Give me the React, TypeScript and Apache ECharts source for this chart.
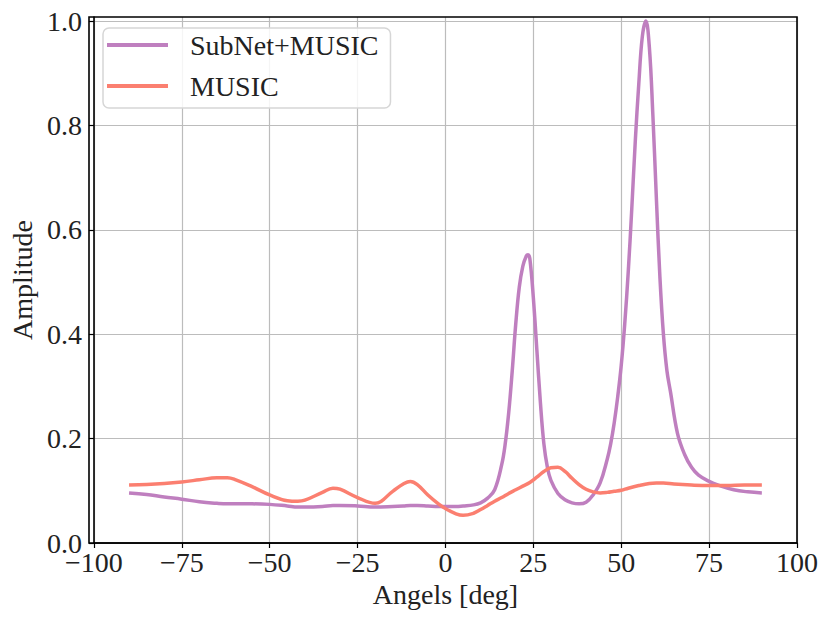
import React, { useEffect, useRef } from "react";
import * as echarts from "echarts";

const subnetAngles = [
  -90, -85, -80, -75, -70, -65, -62, -60, -55, -50, -45, -42, -40, -35, -32, -30, -25, -20, -15, -12, -10, -8, -5, -2,
  0, 3, 5, 8, 10, 12, 14, 16, 17, 18, 19, 20, 21, 22, 23, 23.5, 24, 25, 26, 27, 28, 29, 30, 32, 34, 36, 38, 40, 42, 44,
  46, 47, 48, 49, 50, 51, 52, 53, 54, 55, 56, 57, 58, 59, 60, 61, 62, 63, 64, 66, 68, 70, 72, 75, 78, 82, 86, 90,
];
const subnetValues = [
  0.096, 0.093, 0.088, 0.084, 0.079, 0.076, 0.075, 0.075, 0.075, 0.074, 0.071, 0.069, 0.069, 0.07, 0.072, 0.072, 0.071,
  0.069, 0.07, 0.071, 0.072, 0.072, 0.071, 0.07, 0.07, 0.07, 0.071, 0.073, 0.077, 0.086, 0.102, 0.15, 0.19, 0.25, 0.33,
  0.42, 0.49, 0.53, 0.55, 0.552, 0.545, 0.47, 0.37, 0.27, 0.19, 0.145, 0.12, 0.095, 0.083, 0.077, 0.075, 0.078, 0.092,
  0.115, 0.16, 0.19, 0.23, 0.28, 0.34, 0.42, 0.52, 0.64, 0.77, 0.88, 0.97, 1.0, 0.95, 0.82, 0.66, 0.51, 0.4, 0.33, 0.29,
  0.21, 0.17, 0.145, 0.13, 0.118, 0.11, 0.102, 0.098, 0.096,
];

const musicAngles = [
  -90, -85, -80, -75, -70, -65, -62, -60, -55, -50, -45, -42, -40, -35, -32, -30, -25, -20, -15, -12, -10, -8, -5, -2,
  0, 3, 5, 8, 10, 12, 14, 16, 18, 20, 22, 24, 26, 28, 30, 32, 34, 36, 38, 40, 42, 44, 46, 48, 50, 52, 55, 58, 60, 62,
  65, 70, 75, 80, 85, 90,
];
const musicValues = [
  0.111, 0.112, 0.114, 0.117, 0.121, 0.125, 0.125, 0.122, 0.108, 0.092, 0.081, 0.08, 0.082, 0.097, 0.105, 0.103, 0.087,
  0.076, 0.099, 0.113, 0.118, 0.112, 0.092, 0.075, 0.066, 0.056, 0.053, 0.057, 0.064, 0.072, 0.08, 0.087, 0.095, 0.102,
  0.109, 0.116, 0.126, 0.137, 0.144, 0.145, 0.137, 0.124, 0.112, 0.103, 0.098, 0.096, 0.097, 0.099, 0.101, 0.105, 0.11,
  0.114, 0.115, 0.115, 0.113, 0.111, 0.11, 0.11, 0.111, 0.111,
];

const seriesNames = ["SubNet+MUSIC", "MUSIC"];
const yTicks = [0, 0.2, 0.4, 0.6, 0.8, 1.0];

const FONT = "'Liberation Serif', 'DejaVu Serif', serif";
const FS = 28;

export default function App() {
  const ref = useRef<HTMLDivElement>(null);
  useEffect(() => {
    document.body.style.margin = "0";
    const chart = echarts.init(ref.current!, null, { renderer: "svg" });
    const subnetData = subnetAngles.map((a, i) => [a, subnetValues[i]]);
    const musicData = musicAngles.map((a, i) => [a, musicValues[i]]);
    chart.setOption({
      animation: false,
      backgroundColor: "#ffffff",
      grid: { left: 89, right: 33, top: 17, bottom: 79, show: false },
      graphic: [
        {
          type: "rect",
          shape: { x: 89, y: 17, width: 708, height: 526 },
          style: { fill: "none", stroke: "#000", lineWidth: 1.6 },
          z: 100,
        },
      ],
      legend: {
        orient: "vertical",
        left: 103,
        top: 28,
        data: seriesNames.map((n) => ({ name: n, icon: "rect" })),
        itemWidth: 61,
        itemHeight: 4,
        itemGap: 13,
        padding: [3, 12, 8, 4],
        backgroundColor: "rgba(255,255,255,0.85)",
        borderColor: "#d6d6d6",
        borderWidth: 1.5,
        borderRadius: 6,
        textStyle: { fontFamily: FONT, fontSize: FS, color: "#222", padding: [0, 0, 0, 17] },
      },
      xAxis: {
        type: "value",
        min: -100,
        max: 100,
        interval: 25,
        name: "Angels [deg]",
        nameLocation: "middle",
        nameGap: 35,
        nameTextStyle: { fontFamily: FONT, fontSize: FS, color: "#222" },
        axisLine: { show: true, onZero: false, lineStyle: { color: "#000", width: 1.6 } },
        axisTick: { show: true, length: 5, inside: false, lineStyle: { color: "#000", width: 1.2 } },
        axisLabel: {
          fontFamily: FONT,
          fontSize: FS,
          lineHeight: 16,
          color: "#222",
          margin: 11,
          formatter: (v: number) => (v < 0 ? "\u2212" + Math.abs(v) : String(v)),
        },
        splitLine: { show: true, lineStyle: { color: "#bcbcbc", width: 1.2 } },
      },
      yAxis: {
        type: "value",
        min: 0,
        max: 1.0077,
        interval: 0.2,
        name: "Amplitude",
        nameLocation: "middle",
        nameGap: 48,
        nameTextStyle: { fontFamily: FONT, fontSize: FS, color: "#222" },
        axisLine: { show: true, onZero: false, lineStyle: { color: "#000", width: 1.6 } },
        axisTick: {
          show: true,
          length: 5,
          inside: false,
          customValues: yTicks,
          lineStyle: { color: "#000", width: 1.2 },
        },
        axisLabel: {
          fontFamily: FONT,
          fontSize: FS,
          lineHeight: 16,
          color: "#222",
          margin: 12,
          customValues: yTicks,
          formatter: (v: number) => {
            const r = Math.round(v * 10) / 10;
            if (Math.abs(v - r) > 1e-6 || Math.round(r * 10) % 2 !== 0) return "";
            return r.toFixed(1);
          },
        },
        splitLine: { show: true, lineStyle: { color: "#bcbcbc", width: 1.2 } },
      },
      series: [
        {
          name: seriesNames[0],
          type: "line",
          data: subnetData,
          showSymbol: false,
          symbol: "none",
          smooth: 0.4,
          lineStyle: { color: "#bf7fbf", width: 3.5 },
          itemStyle: { color: "#bf7fbf" },
        },
        {
          name: seriesNames[1],
          type: "line",
          data: musicData,
          showSymbol: false,
          symbol: "none",
          smooth: 0.4,
          lineStyle: { color: "#fb7f70", width: 3.5 },
          itemStyle: { color: "#fb7f70" },
        },
      ],
    });
    return () => chart.dispose();
  }, []);
  return <div ref={ref} style={{ width: 830, height: 622 }} />;
}
